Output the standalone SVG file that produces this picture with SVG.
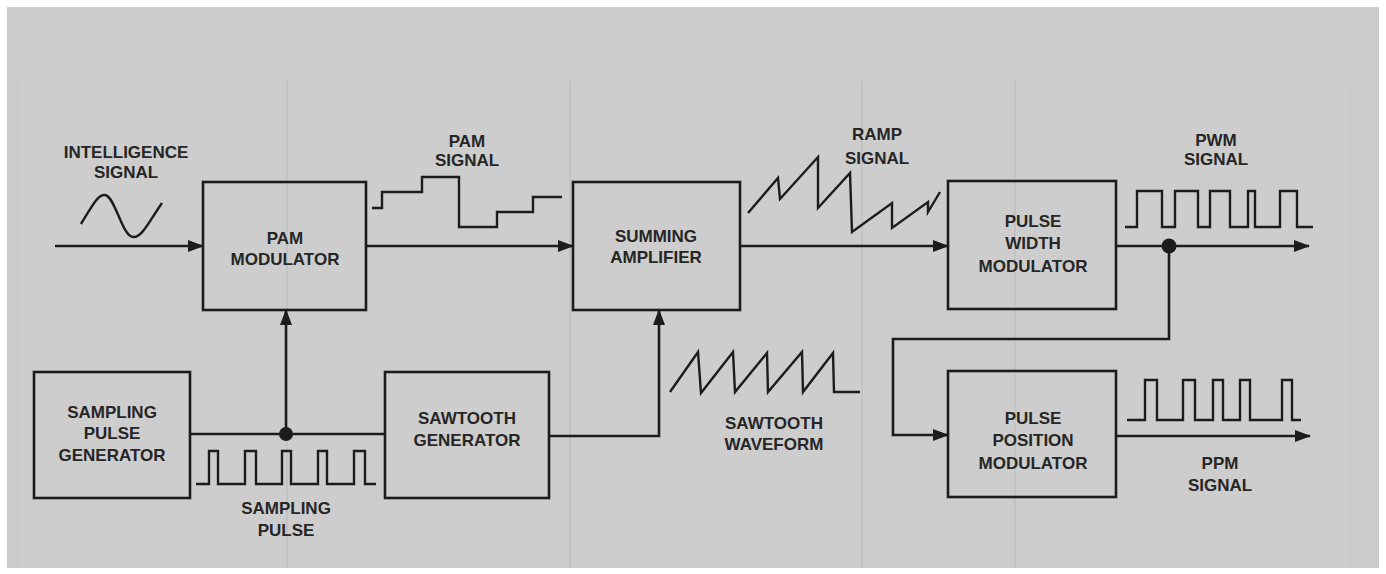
<svg xmlns="http://www.w3.org/2000/svg" width="1386" height="574" viewBox="0 0 1386 574">
<defs>
<style>
.box{fill:none;stroke:#1c1c1c;stroke-width:2.6}
.ln{fill:none;stroke:#1c1c1c;stroke-width:2.6}
.wv{fill:none;stroke:#1c1c1c;stroke-width:2.4;stroke-linejoin:miter}
.t{font-family:"Liberation Sans",Arial,sans-serif;font-weight:bold;font-size:17px;fill:#262626;text-anchor:middle}
.fold{stroke:#bdbdbd;stroke-width:1.2}
</style>
<marker id="ah" markerWidth="16" markerHeight="12" refX="15" refY="6" orient="auto" markerUnits="userSpaceOnUse">
<path d="M0,0 L16,6 L0,12 Z" fill="#1c1c1c"/>
</marker>
</defs>
<rect x="0" y="0" width="1386" height="574" fill="#ffffff"/>
<rect x="7" y="7" width="1372" height="561" fill="#cbcbcb"/>
<rect x="20" y="81" width="1327" height="487" fill="#cdcdcd"/>
<g id="folds">
<line class="fold" x1="287" y1="81" x2="287" y2="568"/>
<line class="fold" x1="570" y1="81" x2="570" y2="568"/>
<line class="fold" x1="862" y1="81" x2="862" y2="568"/>
<line class="fold" x1="1015" y1="81" x2="1015" y2="568"/>
</g>

<g id="connectors">
<line class="ln" x1="55" y1="246" x2="203" y2="246" marker-end="url(#ah)"/>
<line class="ln" x1="366" y1="246" x2="573" y2="246" marker-end="url(#ah)"/>
<line class="ln" x1="740" y1="246" x2="948" y2="246" marker-end="url(#ah)"/>
<line class="ln" x1="1116" y1="246" x2="1309" y2="246" marker-end="url(#ah)"/>
<polyline class="ln" points="1169,246 1169,339 893,339 893,435 948,435" marker-end="url(#ah)"/>
<line class="ln" x1="1116" y1="436" x2="1310" y2="436" marker-end="url(#ah)"/>
<line class="ln" x1="190" y1="434" x2="385" y2="434"/>
<line class="ln" x1="286" y1="434" x2="286" y2="310" marker-end="url(#ah)"/>
<polyline class="ln" points="549,436 659,436 659,310" marker-end="url(#ah)"/>
<circle cx="286" cy="434" r="7" fill="#1c1c1c"/>
<circle cx="1169" cy="246" r="7.5" fill="#1c1c1c"/>
</g>

<g id="intelligence-signal">
<text class="t" x="126" y="158">INTELLIGENCE</text>
<text class="t" x="126" y="178">SIGNAL</text>
<path class="wv" d="M81,224 C92,206 98,194 105,195 C115,196 122,236 133,237 C142,238 150,220 162,203"/>
</g>

<g id="pam-modulator">
<rect class="box" x="203" y="182" width="163" height="128"/>
<text class="t" x="285" y="244">PAM</text>
<text class="t" x="285" y="265">MODULATOR</text>
</g>

<g id="pam-signal">
<text class="t" x="467" y="147">PAM</text>
<text class="t" x="467" y="166">SIGNAL</text>
<polyline class="wv" points="372,208 382,208 382,192 422,192 422,177 459,177 459,227 497,227 497,212 533,212 533,197 562,197"/>
</g>

<g id="summing-amplifier">
<rect class="box" x="573" y="182" width="167" height="128"/>
<text class="t" x="656" y="242">SUMMING</text>
<text class="t" x="656" y="263">AMPLIFIER</text>
</g>

<g id="ramp-signal">
<text class="t" x="877" y="140">RAMP</text>
<text class="t" x="877" y="164">SIGNAL</text>
<polyline class="wv" points="748,213 778,178 780,199 818,157 818,208 850,173 852,232 892,203 892,228 928,202 928,212 940,192"/>
</g>

<g id="pulse-width-modulator">
<rect class="box" x="948" y="181" width="168" height="128"/>
<text class="t" x="1033" y="227">PULSE</text>
<text class="t" x="1033" y="249">WIDTH</text>
<text class="t" x="1033" y="272">MODULATOR</text>
</g>

<g id="pwm-signal">
<text class="t" x="1216" y="146">PWM</text>
<text class="t" x="1216" y="165">SIGNAL</text>
<polyline class="wv" points="1125,227 1137,227 1137,191 1162,191 1162,227 1175,227 1175,191 1198,191 1198,227 1210,227 1210,191 1230,191 1230,227 1248,227 1248,191 1255,191 1255,227 1280,227 1280,191 1297,191 1297,227 1313,227"/>
</g>

<g id="pulse-position-modulator">
<rect class="box" x="948" y="371" width="168" height="126"/>
<text class="t" x="1033" y="424">PULSE</text>
<text class="t" x="1033" y="446">POSITION</text>
<text class="t" x="1033" y="469">MODULATOR</text>
</g>

<g id="ppm-signal">
<text class="t" x="1220" y="469">PPM</text>
<text class="t" x="1220" y="491">SIGNAL</text>
<polyline class="wv" points="1127,420 1145,420 1145,380 1157,380 1157,420 1183,420 1183,380 1195,380 1195,420 1213,420 1213,380 1223,380 1223,420 1240,420 1240,380 1250,380 1250,420 1282,420 1282,380 1292,380 1292,420 1301,420"/>
</g>

<g id="sampling-pulse-generator">
<rect class="box" x="34" y="372" width="156" height="126"/>
<text class="t" x="112" y="418">SAMPLING</text>
<text class="t" x="112" y="439">PULSE</text>
<text class="t" x="112" y="461">GENERATOR</text>
</g>

<g id="sampling-pulse">
<polyline class="wv" points="196,484 209,484 209,451 218,451 218,484 245,484 245,451 256,451 256,484 282,484 282,451 291,451 291,484 318,484 318,451 327,451 327,484 354,484 354,451 365,451 365,484 376,484"/>
<text class="t" x="286" y="514">SAMPLING</text>
<text class="t" x="286" y="536">PULSE</text>
</g>

<g id="sawtooth-generator">
<rect class="box" x="385" y="372" width="164" height="126"/>
<text class="t" x="467" y="424">SAWTOOTH</text>
<text class="t" x="467" y="446">GENERATOR</text>
</g>

<g id="sawtooth-waveform">
<polyline class="wv" points="670,392 698,352 701,393 733,352 735,392 767,353 768,392 802,352 803,392 833,353 834,392 860,392"/>
<text class="t" x="774" y="429">SAWTOOTH</text>
<text class="t" x="774" y="450">WAVEFORM</text>
</g>
</svg>
